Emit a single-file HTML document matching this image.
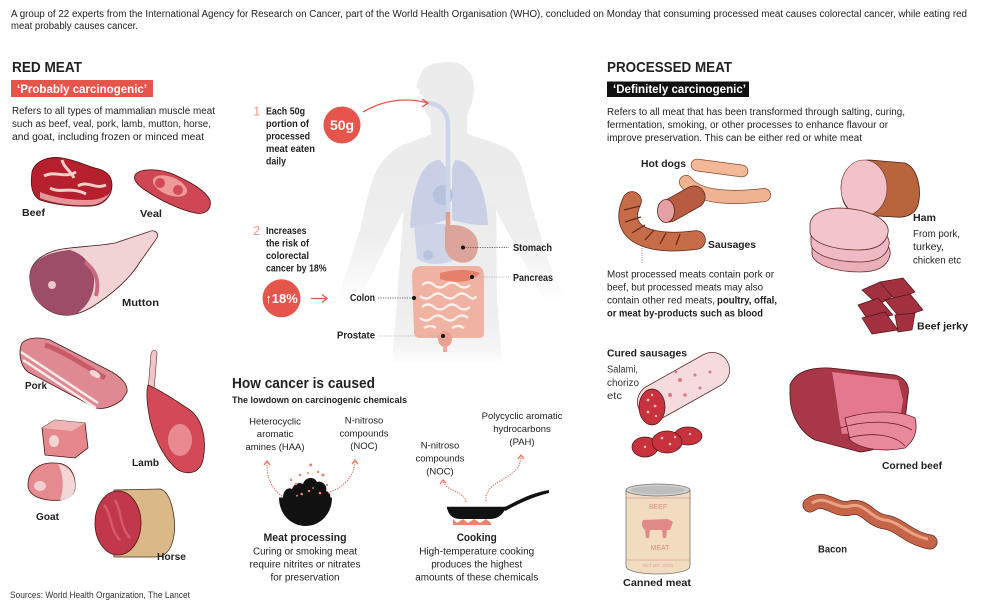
<!DOCTYPE html>
<html><head><meta charset="utf-8"><style>
html,body{margin:0;padding:0;background:#fff;}
body{width:985px;height:610px;overflow:hidden;}
svg{display:block;}
text{font-family:"Liberation Sans",sans-serif;fill:#222;}
.b{font-weight:bold;}
</style></head><body>
<svg width="985" height="610" viewBox="0 0 985 610" xmlns="http://www.w3.org/2000/svg">
<defs>
<linearGradient id="torsog" x1="0" y1="200" x2="0" y2="362" gradientUnits="userSpaceOnUse">
<stop offset="0" stop-color="#ececec"/><stop offset="0.7" stop-color="#eeeeee"/><stop offset="0.9" stop-color="#f4f4f4"/><stop offset="1" stop-color="#fdfdfd"/>
</linearGradient>
<linearGradient id="armg" x1="0" y1="150" x2="0" y2="305" gradientUnits="userSpaceOnUse">
<stop offset="0" stop-color="#ececec"/><stop offset="0.55" stop-color="#eeeeee"/><stop offset="1" stop-color="#ffffff"/>
</linearGradient>
</defs>

<!-- header -->
<text x="11" y="17" font-size="10" textLength="956" lengthAdjust="spacingAndGlyphs">A group of 22 experts from the International Agency for Research on Cancer, part of the World Health Organisation (WHO), concluded on Monday that consuming processed meat causes colorectal cancer, while eating red</text>
<text x="11" y="29" font-size="10" textLength="127" lengthAdjust="spacingAndGlyphs">meat probably causes cancer.</text>

<!-- RED MEAT -->
<text x="12" y="72" font-size="15" class="b" textLength="70" lengthAdjust="spacingAndGlyphs">RED MEAT</text>
<rect x="11" y="80" width="142" height="17" fill="#e6554b"/>
<text x="17" y="93" font-size="12" class="b" style="fill:#fff" textLength="130" lengthAdjust="spacingAndGlyphs">‘Probably carcinogenic’</text>
<text x="12" y="114" font-size="10" textLength="203" lengthAdjust="spacingAndGlyphs">Refers to all types of mammalian muscle meat</text>
<text x="12" y="127" font-size="10" textLength="199" lengthAdjust="spacingAndGlyphs">such as beef, veal, pork, lamb, mutton, horse,</text>
<text x="12" y="140" font-size="10" textLength="192" lengthAdjust="spacingAndGlyphs">and goat, including frozen or minced meat</text>

<!-- Beef -->
<path d="M32,172 C35,160 50,156 62,158 C75,160 85,165 95,168 C105,170 112,175 112,185 C112,195 105,205 92,206 C75,207 55,205 40,200 C32,196 30,185 32,172Z" fill="#b51f2e" stroke="#4a1414" stroke-width="0.8"/>
<path d="M40,198 C55,204 75,206 92,205 C100,204 106,200 110,193 C105,198 96,200 88,200 C70,200 55,198 40,192Z" fill="#e3979b"/>
<path d="M44,176 C55,170 64,179 76,172 M78,186 C88,180 95,190 106,185 M50,188 C60,194 70,186 86,194 M62,160 C64,168 70,170 74,178" stroke="#f3cfc8" stroke-width="3" fill="none"/>
<!-- Veal -->
<path d="M135,175 C140,168 160,168 175,175 C190,182 205,190 210,200 C212,210 205,215 195,213 C180,210 160,200 148,192 C138,186 133,180 135,175Z" fill="#cf4654" stroke="#4a1414" stroke-width="0.8"/>
<ellipse cx="170" cy="186" rx="18" ry="9" fill="#ef9a9a" transform="rotate(22 170 186)"/>
<circle cx="160" cy="183" r="5" fill="#d14a57"/><circle cx="178" cy="190" r="5" fill="#d14a57"/>
<!-- Mutton -->
<path d="M30,280 C28,262 45,250 70,248 C90,246 105,245 115,243 L148,232 C154,229 159,232 157,238 L140,262 C132,275 118,290 95,305 C80,315 65,318 52,312 C38,305 31,295 30,280Z" fill="#f1d3d5" stroke="#4a1a1a" stroke-width="0.8"/>
<path d="M30,280 C28,262 45,252 70,250 C84,254 92,265 94,278 C95,294 88,306 76,314 C62,318 45,310 36,300 C31,292 30,285 30,280Z" fill="#9e4d68"/>
<path d="M85,262 C95,270 100,280 96,296" stroke="#c96a80" stroke-width="4" fill="none"/>
<circle cx="52" cy="285" r="4" fill="#e8c8c8"/>
<!-- Pork -->
<path d="M22,343 C28,337 40,337 50,340 L112,372 C122,378 128,385 127,392 L122,400 C115,405 105,410 96,408 L28,372 C20,366 18,352 22,343Z" fill="#df8a92" stroke="#4a1a1a" stroke-width="0.8"/>
<path d="M21,352 L98,403 M23,360 L96,408" stroke="#fbeaea" stroke-width="2.5" fill="none"/>
<path d="M45,345 C60,350 80,362 105,378" stroke="#c85a68" stroke-width="5" fill="none"/>
<ellipse cx="95" cy="374" rx="6" ry="3" fill="#f5d5d5" transform="rotate(30 95 374)"/>
<!-- Lamb -->
<path d="M151,354 C152,349 157,349 157,354 L154,390 L148,390Z" fill="#f0c6c6" stroke="#6a2a2a" stroke-width="0.6"/>
<path d="M148,385 C160,390 175,400 190,410 C203,420 207,440 203,460 C200,472 190,476 178,470 C165,460 155,440 150,420 C147,405 146,392 148,385Z" fill="#d24a58" stroke="#4a1a1a" stroke-width="0.8"/>
<ellipse cx="180" cy="440" rx="12" ry="16" fill="#e88a90"/>
<!-- Goat -->
<path d="M42,428 L55,420 L85,423 L88,448 L75,458 L45,455Z" fill="#e4888c" stroke="#4a1a1a" stroke-width="0.8"/>
<path d="M42,428 L55,420 L85,423 L72,431Z" fill="#f0b4b4"/>
<ellipse cx="54" cy="441" rx="5" ry="6" fill="#f3d6d6"/>
<path d="M28,485 C28,470 40,462 55,463 C68,463 76,472 75,488 C74,498 62,502 48,500 C35,498 28,493 28,485Z" fill="#e58a8e" stroke="#4a1a1a" stroke-width="0.8"/>
<path d="M58,464 C68,466 76,474 75,488 C74,496 68,500 60,500 C64,490 64,475 58,464Z" fill="#f3d6d6"/>
<ellipse cx="40" cy="486" rx="6" ry="5" fill="#f3d0d0"/>
<!-- Horse -->
<path d="M114,490 L160,489 C172,492 176,520 174,535 C172,550 165,557 155,557 L114,557Z" fill="#dbb888" stroke="#4a2a1a" stroke-width="0.8"/>
<ellipse cx="118" cy="523" rx="23" ry="32" fill="#c0384a" stroke="#4a1a1a" stroke-width="0.8"/>
<path d="M104,505 C112,515 110,530 120,540 M115,500 C122,512 120,528 130,538" stroke="#d45a68" stroke-width="2.5" fill="none"/>

<text x="22" y="216" font-size="10" class="b" textLength="23" lengthAdjust="spacingAndGlyphs">Beef</text>
<text x="140" y="217" font-size="10" class="b" textLength="22" lengthAdjust="spacingAndGlyphs">Veal</text>
<text x="122" y="306" font-size="10" class="b" textLength="37" lengthAdjust="spacingAndGlyphs">Mutton</text>
<text x="25" y="389" font-size="10" class="b" textLength="22" lengthAdjust="spacingAndGlyphs">Pork</text>
<text x="132" y="466" font-size="10" class="b" textLength="27" lengthAdjust="spacingAndGlyphs">Lamb</text>
<text x="36" y="520" font-size="10" class="b" textLength="23" lengthAdjust="spacingAndGlyphs">Goat</text>
<text x="157" y="560" font-size="10" class="b" textLength="29" lengthAdjust="spacingAndGlyphs">Horse</text>
<text x="10" y="598" font-size="9" style="fill:#333" textLength="180" lengthAdjust="spacingAndGlyphs">Sources: World Health Organization, The Lancet</text>

<!-- Body silhouette -->
<path d="M450,62 C463,62 474,72 474,88 C474,100 470,108 467,115 L467,133 C480,140 500,142 512,152 C522,162 526,180 530,200 L548,260 L565,302 L545,302 L496,210 L497,240 L404,240 L404,210 L358,302 L337,302 L360,230 C368,195 372,170 388,155 C402,142 420,140 431,134 L430,118 C426,114 424,110 425,104 L422,100 L424,97 L419,93 L420,90 L416,87 C419,80 420,72 425,68 C432,63 440,62 450,62Z" fill="url(#armg)"/>
<path d="M404,205 L496,205 L497,300 L502,362 L392,362 L397,300Z" fill="url(#torsog)"/>
<!-- organs -->
<path d="M440,160 C425,160 412,180 410,228 C425,226 440,222 446,220 L446,168Z" fill="#c9d0e6"/>
<path d="M455,160 C472,160 486,185 488,225 C475,226 460,222 452,220 L452,168Z" fill="#c9d0e6"/>
<circle cx="443" cy="195" r="10" fill="#b7c2df"/>
<path d="M414,226 C430,222 455,223 460,230 L458,258 C445,266 425,266 417,258Z" fill="#cdd4e8"/>
<circle cx="428" cy="255" r="5" fill="#b9c3e0"/>
<path d="M428,103 C440,104 448,112 448,125 L448,212" stroke="#cdd5ea" stroke-width="4.5" fill="none" stroke-linecap="round"/>
<path d="M448,212 L448,228" stroke="#dfa090" stroke-width="4.5" fill="none"/>
<path d="M445,226 C460,222 478,230 478,245 C478,258 470,265 458,262 C452,260 446,255 445,248Z" fill="#dca49a"/>
<path d="M414,332 L412,276 Q412,266 422,266 L476,266 Q484,266 484,276 L484,334 Q484,338 478,338 L420,338 Q414,338 414,332Z" fill="#f0b3a3"/>
<path d="M422,285 q6,-5 12,0 t12,0 t12,0 t12,0 M420,296 q6,5 12,0 t12,0 t12,0 t12,0 t8,0 M422,307 q6,-5 12,0 t12,0 t12,0 t12,0 M420,318 q6,5 12,0 t12,0 t12,0 t12,0 M424,328 q6,-4 12,0 M452,328 q6,-4 12,0" stroke="#fbf0ec" stroke-width="2.3" fill="none"/>
<path d="M440,273 C455,269 470,269 480,273 C472,283 455,284 440,279Z" fill="#e4806c"/>
<ellipse cx="445" cy="339" rx="7" ry="8" fill="#eaa190"/>
<path d="M445,345 L445,352" stroke="#eeaa98" stroke-width="4"/>

<!-- labels on body -->
<g stroke="#444" stroke-width="0.8" stroke-dasharray="1.2,1.2" fill="none">
<line x1="463" y1="247.5" x2="509" y2="247.5"/>
<line x1="472" y1="277" x2="509" y2="277" stroke="#aaa"/>
<line x1="378" y1="298" x2="414" y2="298"/>
<line x1="379" y1="336" x2="443" y2="336" stroke="#aaa"/>
</g>
<circle cx="463" cy="247.5" r="2" fill="#111"/>
<circle cx="472" cy="277" r="2" fill="#111"/>
<circle cx="414" cy="298" r="2" fill="#111"/>
<circle cx="443" cy="336" r="2" fill="#111"/>
<text x="513" y="251" font-size="10" class="b" textLength="39" lengthAdjust="spacingAndGlyphs">Stomach</text>
<text x="513" y="281" font-size="10" class="b" textLength="40" lengthAdjust="spacingAndGlyphs">Pancreas</text>
<text x="350" y="301" font-size="10" class="b" textLength="25" lengthAdjust="spacingAndGlyphs">Colon</text>
<text x="337" y="338.5" font-size="10" class="b" textLength="38" lengthAdjust="spacingAndGlyphs">Prostate</text>

<!-- step 1 -->
<text x="253" y="115.5" font-size="13" style="fill:#f29c84">1</text>
<g font-size="10.5" class="b">
<text x="266" y="114.5" textLength="39" lengthAdjust="spacingAndGlyphs">Each 50g</text>
<text x="266" y="127" textLength="43" lengthAdjust="spacingAndGlyphs">portion of</text>
<text x="266" y="139.5" textLength="44" lengthAdjust="spacingAndGlyphs">processed</text>
<text x="266" y="152" textLength="49" lengthAdjust="spacingAndGlyphs">meat eaten</text>
<text x="266" y="164.5" textLength="20" lengthAdjust="spacingAndGlyphs">daily</text>
</g>
<circle cx="342" cy="125" r="18.5" fill="#e6554b"/>
<text x="342" y="130" font-size="14" class="b" style="fill:#fff" text-anchor="middle">50g</text>
<path d="M363,112 Q394,94 428,103" stroke="#e6554b" stroke-width="1.3" fill="none"/>
<path d="M422,99 L428,103 L422,107" stroke="#e6554b" stroke-width="1.3" fill="none"/>

<!-- step 2 -->
<text x="253" y="235" font-size="13" style="fill:#f29c84">2</text>
<g font-size="10.5" class="b">
<text x="266" y="234" textLength="40.5" lengthAdjust="spacingAndGlyphs">Increases</text>
<text x="266" y="246.5" textLength="43" lengthAdjust="spacingAndGlyphs">the risk of</text>
<text x="266" y="259" textLength="43" lengthAdjust="spacingAndGlyphs">colorectal</text>
<text x="266" y="271.5" textLength="60.5" lengthAdjust="spacingAndGlyphs">cancer by 18%</text>
</g>
<circle cx="281.5" cy="298.3" r="19" fill="#e6554b"/>
<text x="281.5" y="303" font-size="13" class="b" style="fill:#fff" text-anchor="middle">↑18%</text>
<path d="M311,298.5 L327,298.5 M322,294.5 L327,298.5 L322,302.5" stroke="#e6554b" stroke-width="1.3" fill="none"/>

<!-- How cancer is caused -->
<text x="232" y="388" font-size="14.5" class="b" textLength="143" lengthAdjust="spacingAndGlyphs">How cancer is caused</text>
<text x="232" y="403" font-size="9.5" class="b" textLength="175" lengthAdjust="spacingAndGlyphs">The lowdown on carcinogenic chemicals</text>
<g font-size="9.5" text-anchor="middle">
<text x="275" y="424.5">Heterocyclic</text>
<text x="275" y="437">aromatic</text>
<text x="275" y="450">amines (HAA)</text>
<text x="364" y="423.5">N-nitroso</text>
<text x="364" y="436.5">compounds</text>
<text x="364" y="449">(NOC)</text>
<text x="522" y="419">Polycyclic aromatic</text>
<text x="522" y="432">hydrocarbons</text>
<text x="522" y="445">(PAH)</text>
<text x="440" y="448.5">N-nitroso</text>
<text x="440" y="461.5">compounds</text>
<text x="440" y="474.5">(NOC)</text>
</g>
<!-- bowl -->
<path d="M279,497.5 L332,497.5 C332,514 320,526 305.5,526 C291,526 279,514 279,497.5Z" fill="#111"/>
<path d="M283,498 C283,490 288,487 292,489 C294,483 300,482 303,484 C305,477 314,476 317,482 C322,480 328,486 326,491 C330,492 331,496 330,498Z" fill="#111"/>
<g fill="#f0826c">
<circle cx="310.7" cy="465" r="1.5"/><circle cx="300" cy="475" r="1.3"/><circle cx="291" cy="480" r="1.2"/><circle cx="308" cy="473" r="1"/><circle cx="318" cy="472" r="1.2"/><circle cx="323" cy="475" r="1.5"/><circle cx="296" cy="484" r="1.3"/><circle cx="301.7" cy="494" r="1.3"/><circle cx="297" cy="495.7" r="1"/><circle cx="309" cy="491" r="1.2"/><circle cx="320" cy="493" r="1.3"/><circle cx="327" cy="485" r="1.2"/><circle cx="313" cy="488" r="0.9"/>
</g>
<g stroke="#ee6f5c" stroke-width="1.2" stroke-dasharray="1.2,1.3" fill="none">
<path d="M282,496 Q266,485 267,462"/>
<path d="M328,493 Q354,483 355,461"/>
<path d="M466,502 C464,490 445,492 443,480"/>
<path d="M486,501 C484,478 520,482 521,456"/>
</g>
<g stroke="#ee6f5c" stroke-width="1.2" fill="none">
<path d="M264,465 L267,461 L270,465"/>
<path d="M352,464 L355,460 L358,464"/>
<path d="M440,484 L443,480 L446,483"/>
<path d="M518,459 L521,455 L524,459"/>
</g>
<!-- pan -->
<path d="M453,519 L457,523 L463,519 L468,523 L474,519 L480,523 L486,519 L491,523 L491,525 L453,525Z" fill="#f0826c"/>
<path d="M446.7,506.7 L506,506.7 C504,514 498,519 490,519 L460,519 C452,519 448,514 446.7,506.7Z" fill="#111"/>
<path d="M503,508 C515,502 530,493 549,490 L549,493 C532,497 516,505 505,511Z" fill="#111"/>

<g text-anchor="middle">
<text x="305" y="541" font-size="11" class="b" textLength="83" lengthAdjust="spacingAndGlyphs">Meat processing</text>
<text x="305" y="554.5" font-size="10" textLength="104" lengthAdjust="spacingAndGlyphs">Curing or smoking meat</text>
<text x="305" y="567.5" font-size="10" textLength="111" lengthAdjust="spacingAndGlyphs">require nitrites or nitrates</text>
<text x="305" y="580.5" font-size="10" textLength="69" lengthAdjust="spacingAndGlyphs">for preservation</text>
<text x="476.7" y="541" font-size="11" class="b" textLength="40" lengthAdjust="spacingAndGlyphs">Cooking</text>
<text x="476.7" y="554.5" font-size="10" textLength="115" lengthAdjust="spacingAndGlyphs">High-temperature cooking</text>
<text x="476.7" y="567.5" font-size="10" textLength="91" lengthAdjust="spacingAndGlyphs">produces the highest</text>
<text x="476.7" y="580.5" font-size="10" textLength="123" lengthAdjust="spacingAndGlyphs">amounts of these chemicals</text>
</g>

<!-- PROCESSED MEAT -->
<text x="607" y="72" font-size="15" class="b" textLength="125" lengthAdjust="spacingAndGlyphs">PROCESSED MEAT</text>
<rect x="607" y="81.5" width="142" height="15.5" fill="#111"/>
<text x="613" y="93" font-size="12" class="b" style="fill:#fff" textLength="133" lengthAdjust="spacingAndGlyphs">‘Definitely carcinogenic’</text>
<text x="607" y="115" font-size="10" textLength="298" lengthAdjust="spacingAndGlyphs">Refers to all meat that has been transformed through salting, curing,</text>
<text x="607" y="128" font-size="10" textLength="281" lengthAdjust="spacingAndGlyphs">fermentation, smoking, or other processes to enhance flavour or</text>
<text x="607" y="141" font-size="10" textLength="255" lengthAdjust="spacingAndGlyphs">improve preservation. This can be either red or white meat</text>

<!-- hot dogs & sausages -->
<line x1="697" y1="165" x2="742" y2="171" stroke="#8a4a30" stroke-width="12.5" stroke-linecap="round"/>
<line x1="697" y1="165" x2="742" y2="171" stroke="#f2b898" stroke-width="11" stroke-linecap="round"/>
<path d="M686,182 C700,200 740,198 764,195" stroke="#8a4a30" stroke-width="14" fill="none" stroke-linecap="round"/>
<path d="M686,182 C700,200 740,198 764,195" stroke="#f0b392" stroke-width="12.5" fill="none" stroke-linecap="round"/>
<line x1="669" y1="211" x2="694" y2="197" stroke="#5a2418" stroke-width="23" stroke-linecap="round"/>
<line x1="669" y1="211" x2="694" y2="197" stroke="#b75b42" stroke-width="21.5" stroke-linecap="round"/>
<ellipse cx="666" cy="211" rx="8.5" ry="11.5" fill="#e6a0a5" stroke="#5a2418" stroke-width="0.8"/>
<path d="M632,201 C618,230 642,247 696,240" stroke="#5a2418" stroke-width="19.5" fill="none" stroke-linecap="round"/>
<path d="M632,201 C618,230 642,247 696,240" stroke="#c66c48" stroke-width="18" fill="none" stroke-linecap="round"/>
<path d="M624,210 L640,206 M625,222 L641,217 M632,233 L645,225 M645,240 L654,230 M660,244 L666,233 M676,245 L680,234" stroke="#6a2a1a" stroke-width="1.3"/>
<text x="641" y="167" font-size="10" class="b" textLength="45" lengthAdjust="spacingAndGlyphs">Hot dogs</text>
<text x="708" y="248" font-size="10" class="b" textLength="48" lengthAdjust="spacingAndGlyphs">Sausages</text>
<line x1="642" y1="248" x2="642" y2="263" stroke="#666" stroke-width="0.8" stroke-dasharray="1,1.3"/>
<text x="607" y="277.5" font-size="10" textLength="167" lengthAdjust="spacingAndGlyphs">Most processed meats contain pork or</text>
<text x="607" y="290.5" font-size="10" textLength="156" lengthAdjust="spacingAndGlyphs">beef, but processed meats may also</text>
<text x="607" y="303.5" font-size="10" textLength="108" lengthAdjust="spacingAndGlyphs">contain other red meats,</text>
<text x="717" y="303.5" font-size="10" class="b" textLength="60" lengthAdjust="spacingAndGlyphs">poultry, offal,</text>
<text x="607" y="316.5" font-size="10" class="b" textLength="156" lengthAdjust="spacingAndGlyphs">or meat by-products such as blood</text>

<!-- Ham -->
<path d="M842,195 C838,175 850,160 870,160 L905,163 C918,168 922,190 918,205 C915,215 905,218 895,217 L860,215 C848,212 843,205 842,195Z" fill="#b8643c" stroke="#4a2214" stroke-width="0.8"/>
<ellipse cx="864" cy="188" rx="23" ry="28" fill="#f2c2c8" stroke="#6a3030" stroke-width="0.6"/>
<path d="M812,245 C815,232 835,227 860,232 C880,236 892,245 890,255 C888,265 880,272 860,272 C835,272 815,265 812,255Z" fill="#eab0ba" stroke="#6a3030" stroke-width="0.8"/>
<path d="M811,235 C814,222 834,217 859,222 C879,226 891,235 889,245 C887,255 879,262 859,262 C834,262 814,255 811,245Z" fill="#efbac3" stroke="#6a3030" stroke-width="0.8"/>
<path d="M810,223 C813,210 833,205 858,210 C878,214 890,223 888,233 C886,243 878,250 858,250 C833,250 813,243 810,233Z" fill="#f2c4cb" stroke="#6a3030" stroke-width="0.8"/>
<text x="913" y="221" font-size="10" class="b" textLength="23" lengthAdjust="spacingAndGlyphs">Ham</text>
<text x="913" y="237" font-size="10" textLength="47" lengthAdjust="spacingAndGlyphs">From pork,</text>
<text x="913" y="250" font-size="10" textLength="31" lengthAdjust="spacingAndGlyphs">turkey,</text>
<text x="913" y="263.5" font-size="10" textLength="48" lengthAdjust="spacingAndGlyphs">chicken etc</text>

<!-- Beef jerky -->
<g fill="#a3303e" stroke="#4a1418" stroke-width="0.7">
<path d="M862,290 L880,282 L895,295 L878,305Z"/>
<path d="M880,282 L903,278 L915,292 L895,300Z"/>
<path d="M858,305 L878,298 L893,315 L868,320Z"/>
<path d="M885,300 L910,294 L923,310 L900,318Z"/>
<path d="M862,318 L885,312 L898,330 L872,334Z"/>
<path d="M895,315 L915,313 L912,330 L898,332Z"/>
</g>
<text x="917" y="329.5" font-size="10" class="b" textLength="51" lengthAdjust="spacingAndGlyphs">Beef jerky</text>

<!-- Cured sausages -->
<line x1="655" y1="402" x2="712" y2="370" stroke="#5a2a2a" stroke-width="36" stroke-linecap="round"/>
<line x1="655" y1="402" x2="712" y2="370" stroke="#f6dbde" stroke-width="34.5" stroke-linecap="round"/>
<g fill="#e07880"><circle cx="680" cy="380" r="2"/><circle cx="695" cy="375" r="1.6"/><circle cx="670" cy="395" r="2"/><circle cx="700" cy="388" r="1.5"/><circle cx="685" cy="395" r="1.8"/><circle cx="710" cy="372" r="1.5"/><circle cx="676" cy="372" r="1.3"/></g>
<ellipse cx="652" cy="407" rx="13" ry="18" fill="#c8323c" stroke="#4a1418" stroke-width="0.7"/>
<g fill="#f3c2c6"><circle cx="648" cy="400" r="1.4"/><circle cx="655" cy="406" r="1.4"/><circle cx="648" cy="412" r="1.4"/><circle cx="656" cy="416" r="1.2"/><circle cx="652" cy="395" r="1.2"/></g>
<ellipse cx="688" cy="436" rx="14" ry="9" fill="#c8323c" stroke="#4a1418" stroke-width="0.7"/>
<ellipse cx="645" cy="447" rx="13" ry="10" fill="#c8323c" stroke="#4a1418" stroke-width="0.7"/>
<ellipse cx="667" cy="442" rx="15" ry="11" fill="#c8323c" stroke="#4a1418" stroke-width="0.7"/>
<g fill="#f3c2c6"><circle cx="662" cy="438" r="1.3"/><circle cx="670" cy="444" r="1.3"/><circle cx="675" cy="437" r="1.2"/><circle cx="645" cy="447" r="1.2"/><circle cx="690" cy="434" r="1.2"/></g>
<text x="607" y="356.5" font-size="10" class="b" textLength="80" lengthAdjust="spacingAndGlyphs">Cured sausages</text>
<text x="607" y="372.5" font-size="10" style="fill:#333" textLength="31" lengthAdjust="spacingAndGlyphs">Salami,</text>
<text x="607" y="386" font-size="10" style="fill:#333" textLength="32" lengthAdjust="spacingAndGlyphs">chorizo</text>
<text x="607" y="399" font-size="10" style="fill:#333" textLength="15" lengthAdjust="spacingAndGlyphs">etc</text>

<!-- Corned beef -->
<path d="M790,385 C795,372 810,367 830,368 L895,375 C905,378 910,385 908,395 L905,420 C900,440 880,450 860,452 L815,440 C800,432 790,415 790,395Z" fill="#a83848" stroke="#4a1418" stroke-width="0.8"/>
<path d="M832,372 L898,380 L903,400 L898,430 L842,434 C838,415 836,392 832,372Z" fill="#e4788e"/>
<path d="M845,418 C870,410 900,410 915,418 C918,430 915,440 905,448 C885,452 862,450 850,440Z" fill="#e88a9c" stroke="#6a1a28" stroke-width="0.8"/>
<path d="M840,428 C865,420 895,420 912,430 M848,438 C870,432 895,434 905,446" stroke="#6a1a28" stroke-width="0.8" fill="none"/>
<text x="882" y="469" font-size="10" class="b" textLength="60" lengthAdjust="spacingAndGlyphs">Corned beef</text>

<!-- Can -->
<path d="M626,490 L690,490 L690,566 C690,571 676,574 658,574 C640,574 626,571 626,566Z" fill="#f2dcbf" stroke="#777" stroke-width="0.8"/>
<ellipse cx="658" cy="490" rx="32" ry="6" fill="#cfcfcf" stroke="#777" stroke-width="0.8"/>
<ellipse cx="658" cy="490" rx="27" ry="4" fill="#bdbdbd"/>
<path d="M626,498 L690,498 M626,560 L690,560" stroke="#cfa0a0" stroke-width="0.8"/>
<text x="658" y="509" font-size="7" text-anchor="middle" style="fill:#e08a8a">BEEF</text>
<path d="M643,520 L668,519 L673,522 L670,530 L667,530 L666,538 L663,538 L662,530 L650,530 L649,538 L646,538 L645,530 C642,528 641,523 643,520Z" fill="#e08a8a"/>
<text x="660" y="550" font-size="7" text-anchor="middle" style="fill:#e08a8a">MEAT</text>
<text x="658" y="567" font-size="4.5" text-anchor="middle" style="fill:#e0a0a0">NET WT. 300G</text>
<text x="623" y="586" font-size="10" class="b" textLength="68" lengthAdjust="spacingAndGlyphs">Canned  meat</text>

<!-- Bacon -->
<path d="M810,505 C825,494 835,512 850,508 C865,504 870,520 885,522 C900,524 908,538 930,542" stroke="#6a2a1a" stroke-width="15" fill="none" stroke-linecap="round"/>
<path d="M810,505 C825,494 835,512 850,508 C865,504 870,520 885,522 C900,524 908,538 930,542" stroke="#c4654a" stroke-width="13.5" fill="none" stroke-linecap="round"/>
<path d="M812,503 C826,494 836,510 850,506 C865,502 870,518 885,520 C900,522 908,535 928,539" stroke="#eba284" stroke-width="3" fill="none"/>
<text x="818" y="552.5" font-size="10" class="b" textLength="29" lengthAdjust="spacingAndGlyphs">Bacon</text>
</svg>
</body></html>
